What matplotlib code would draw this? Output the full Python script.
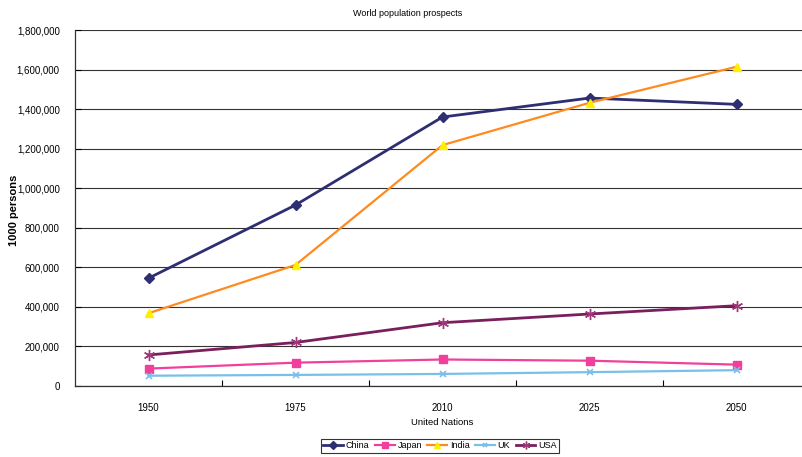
import matplotlib
matplotlib.use("Agg")
import matplotlib.pyplot as plt
from matplotlib.ticker import FuncFormatter, FixedLocator

plt.rcParams['font.family'] = ['Liberation Sans', 'DejaVu Sans']

years = ["1950", "1975", "2010", "2025", "2050"]
china = [545000, 915000, 1360000, 1456000, 1424000]
japan = [88000, 118000, 134000, 128000, 108000]
india = [368000, 612000, 1218000, 1432000, 1614000]
uk = [52000, 56000, 61000, 70000, 80000]
usa = [157000, 220000, 320000, 364000, 406000]

fig = plt.figure(figsize=(8.02, 4.57), dpi=100)
ax = fig.add_axes([75 / 802, 1 - 386 / 457, 735 / 802, 356 / 457])

x = list(range(len(years)))
ax.plot(x, china, color="#2E2E72", lw=2, marker="D", ms=5.5,
        mfc="#2E2E72", mec="#2E2E72", label="China")
ax.plot(x, japan, color="#F0409C", lw=1.6, marker="s", ms=5.5,
        mfc="#F0409C", mec="#F0409C", label="Japan")
ax.plot(x, india, color="#FF8A1E", lw=1.6, marker="^", ms=6,
        mfc="#FFF000", mec="#FFF000", label="India")
ax.plot(x, uk, color="#78C0E8", lw=1.6, marker="x", ms=5,
        mew=1.2, mec="#78C0E8", label="UK")
ax.plot(x, usa, color="#7A1E5E", lw=2, marker=(6, 2, 0), ms=8,
        mew=1.0, mec="#A0387C", label="USA")

ax.set_xlim(-0.5, len(years) - 0.5)
ax.set_ylim(0, 1800000)
ax.set_yticks(range(0, 1800001, 200000))
ax.yaxis.set_major_formatter(FuncFormatter(lambda v, p: f"{int(v):,}"))
ax.yaxis.grid(True, color="#333333", lw=0.8)
ax.set_axisbelow(True)

# category boundaries get tick marks, category centres get labels
ax.xaxis.set_major_locator(FixedLocator([i + 0.5 for i in range(len(years) - 1)]))
ax.xaxis.set_minor_locator(FixedLocator(x))
ax.set_xticklabels([""] * (len(years) - 1))
ax.set_xticklabels(years, minor=True)
ax.tick_params(axis="x", which="major", direction="in", length=4, width=0.8)
ax.tick_params(axis="x", which="minor", length=0, pad=12, labelsize=7)
ax.tick_params(axis="y", direction="in", length=4, width=0.8, pad=11, labelsize=7)

for side in ("top", "right"):
    ax.spines[side].set_visible(False)
for side in ("left", "bottom"):
    ax.spines[side].set_color("#333333")
    ax.spines[side].set_linewidth(0.9)

fig.text(408 / 802, 1 - 14 / 457, "World population prospects",
         ha="center", va="center", fontsize=6.5)
ax.set_xlabel("United Nations", fontsize=6.8, labelpad=4)
fig.text(14 / 802, 1 - 210 / 457, "1000 persons", rotation=90,
         ha="center", va="center", fontsize=8, fontweight="bold")

leg = ax.legend(loc="center", bbox_to_anchor=(440 / 802, 1 - 446 / 457),
                bbox_transform=fig.transFigure, ncol=5, fontsize=6.5,
                frameon=True, fancybox=False, edgecolor="black",
                handlelength=2.2, handletextpad=0.3, columnspacing=0.6,
                borderpad=0.25, markerscale=0.7)
leg.get_frame().set_linewidth(0.8)

fig.savefig("out.png", dpi=100)
